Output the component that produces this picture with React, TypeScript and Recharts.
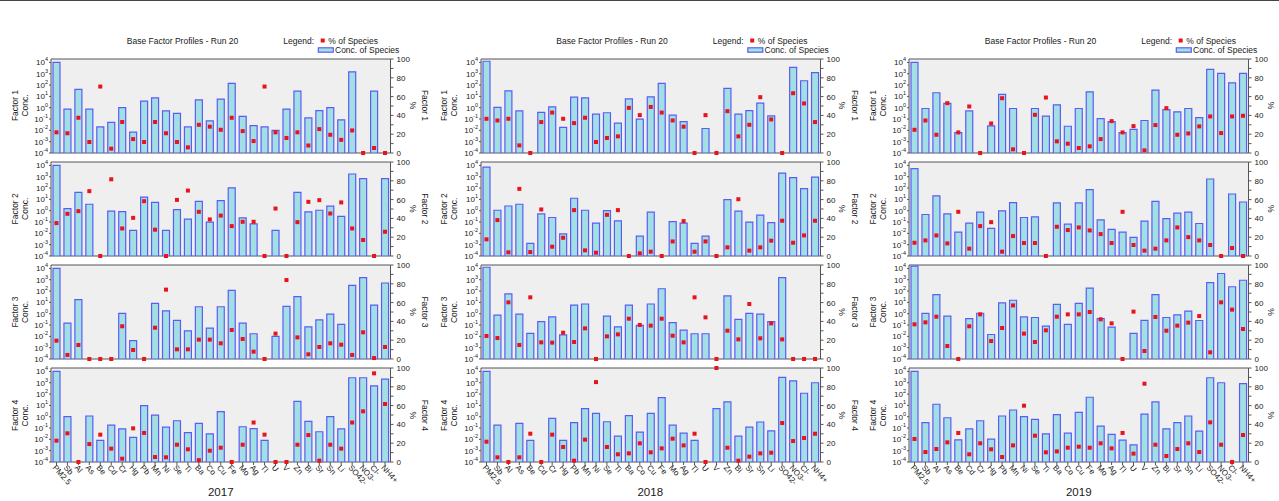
import React from "react";
import { ComposedChart, Bar, Line, XAxis, YAxis, ReferenceArea, CartesianGrid } from "recharts";

const species = ["PM2.5", "Sb", "Al", "As", "Be", "Cd", "Cr", "Hg", "Pb", "Mn", "Ni", "Se", "Ti", "Ba", "Co", "Cu", "Fe", "Mo", "Ag", "Tl", "U", "V", "Zn", "Bi", "Sr", "Sn", "Li", "SO42-", "NO3-", "Cl-", "NH4+"];
const years = ["2017", "2018", "2019"];
const logTicks = [1e-4, 1e-3, 1e-2, 1e-1, 1, 10, 100, 1000, 10000];
const pctTicks = [0, 10, 20, 30, 40, 50, 60, 70, 80, 90, 100];
const titleText = "Base Factor Profiles - Run 20";

// 2017
const c17f1 = [1e4, 0.75, 41, 0.75, 0.02, 0.05, 1.0, 0.007, 3.8, 7.4, 0.53, 0.31, 0.02, 5, 0.07, 5.8, 138, 0.17, 0.026, 0.02, 0.01, 0.75, 29, 0.125, 0.56, 1.0, 0.085, 1480, null, 29, null];
const p17f1 = [22, 21, 37.5, 11.7, 70.7, 4.6, 33, 14.8, 11.7, 33, 21, 11.7, 6, 30, 28, 24.7, 37.5, 23.3, 12.7, 70.7, 22, 16, 22, 8, 25.4, 19.4, 14, 24, 0, 5.3, 0];
const c17f2 = [1e4, 1.55, 42, 3.7, null, 0.9, 0.83, 0.018, 16, 5.5, 0.018, 1.26, 0.18, 6.8, 0.1, 7.8, 102, 0.23, 0.07, null, 0.018, null, 42, 0.79, 1.1, 2.5, 0.32, 1740, 670, null, 670];
const p17f2 = [35, 44.9, 47.7, 69, 0, 81.6, 29.3, 40.6, 58.3, 28, 0, 59.7, 69.6, 47, 38.9, 43, 31.8, 36.4, 36.4, 0, 50.5, 0, 36, 57.6, 59.4, 45.2, 57, 29.3, 17, 0, 25.8];
const c17f3 = [1e4, 0.15, 17.7, null, null, null, 1.05, 0.0042, null, 8.3, 1.8, 0.26, 0.031, 4.1, 0.054, 4.1, 113, 0.15, 0.017, null, 0.01, 4.5, 32, 0.07, 0.28, 0.9, 0.115, 320, 1550, 5.8, 515];
const p17f3 = [19.5, 4.3, 14.9, 0, 0, 0, 34.8, 9.6, 0, 33.3, 73.8, 10.3, 10.3, 20.6, 20.6, 16.7, 30.9, 21.3, 7.8, 0, 27, 84, 23, 5, 12.8, 16.7, 15.2, 4.3, 28.4, 1, 12.8];
const c17f4 = [1e4, 1.0, null, 1.15, 0.008, 0.18, 0.085, 0.015, 9.5, 1.4, 0.12, 0.44, 0.04, 0.26, 0.031, 2.8, null, 0.13, 0.09, 0.008, null, null, 23, 0.39, 0.047, 1.0, 0.085, 2750, 2750, 530, 2100];
const p17f4 = [22.7, 30.5, 0, 19.1, 29.1, 14.2, 3.5, 35.8, 30.9, 5.3, 5, 18.4, 13.5, 2, 12, 15.2, 0, 18.4, 42, 29.1, 0, 0, 18.4, 28.7, 1.4, 18.4, 14.2, 42, 53.9, 94.3, 61.7];

// 2018
const c18f1 = [12600, 1.05, 31, 0.52, null, 0.38, 1.2, 0.018, 8.5, 7.4, 0.27, 0.36, 0.043, 6, 0.1, 9.2, 138, 0.22, 0.06, null, 0.0145, null, 50, 0.27, 0.56, 2.5, 0.19, null, 3600, 240, 1230];
const p18f1 = [36.4, 34.6, 36.4, 8.1, 0, 32.9, 43, 36.4, 31.8, 37.5, 11.7, 16, 17.7, 48, 40.3, 49, 43, 34.6, 28, 0, 40.3, 0, 44.5, 17.7, 30, 59.4, 35.7, 0, 63.6, 52.7, 32.9];
const c18f2 = [7100, 1.1, 2.6, 3.7, 0.0013, 0.52, 0.25, 0.009, 12.6, 1.1, 0.08, 1.0, 0.126, null, 0.0056, 0.74, null, 0.11, 0.08, 0.0013, 0.0056, null, 9.5, 0.9, 0.1, 0.4, 0.09, 2100, 820, 89, 940];
const p18f2 = [17.7, 38.2, 3.9, 71.4, 4.2, 49.5, 9.9, 19.4, 48.8, 6, 3.5, 43.8, 48.8, 0, 2.8, 4.6, 0, 15.5, 37.1, 4.6, 15.5, 0, 9.2, 60.4, 5.7, 9.2, 16.3, 37.5, 14.1, 21.9, 37.5];
const c18f3 = [12600, 0.74, 56, 0.9, 0.018, 0.2, 0.52, 0.0135, 5.8, 7.2, null, 0.6, 0.07, 5.8, 0.093, 7.2, 160, 0.16, 0.035, 0.017, 0.017, null, 37, 0.32, 1.05, 0.9, 0.2, 1550, null, null, null];
const p18f3 = [24.5, 22.3, 60.3, 14.9, 65.6, 17.7, 17.4, 28, 18.1, 32.6, 0, 24.1, 26.2, 42.9, 36.2, 35.5, 42.9, 24.8, 17.7, 65.6, 44.3, 0, 30.1, 20.9, 58.5, 22, 37.9, 20.9, 0, 0, 0];
const c18f4 = [1e4, 0.18, null, 0.26, 0.008, null, 0.71, 0.008, 0.3, 5.1, 2.0, 0.36, 0.019, 1.23, 0.044, 2.0, 49, 0.18, 0.035, 0.008, null, 5.1, 20, 0.019, 0.12, 0.34, 0.057, 2950, 1480, 118, 1000];
const p18f4 = [21.6, 5, 0, 5, 30.1, 0, 29.1, 16, 1.4, 23.8, 85, 16, 8.2, 9.2, 19.9, 10.3, 14.5, 24.8, 17.7, 30.1, 0, 100, 15.2, 1.4, 5.7, 9.2, 9.9, 41.5, 22.3, 25.5, 30.1];

// 2019
const c19f1 = [1e4, 0.85, 21, 2.4, 0.0064, 0.52, null, 0.025, 15, 0.85, null, 0.85, 0.18, 1.8, 0.023, 0.85, 25, 0.11, 0.06, 0.0064, 0.012, 0.074, 36, 0.69, 0.43, 0.85, 0.135, 2400, 1070, 158, 1070];
const p19f1 = [24.7, 34.6, 19.4, 53, 21.9, 49.5, 0, 31.4, 58.3, 3.9, 0, 40.6, 59, 12.4, 9.9, 5.3, 7.1, 14.8, 33.9, 21.9, 28.6, 2.8, 29.7, 47.7, 19.4, 20.8, 28.3, 38.9, 21.2, 38.9, 39.6];
const c19f2 = [5100, 0.46, 20, 0.52, 0.013, 0.08, 0.74, 0.027, 0.96, 5.2, 0.25, 0.28, null, 4.9, 0.065, 4.9, 72, 0.155, 0.022, 0.013, 0.0044, 0.118, 6.8, 0.2, 0.6, 0.74, 0.074, 630, null, 30, 5.9];
const p19f2 = [14.1, 16.6, 21.9, 13.4, 47, 7.8, 31.8, 36, 4.6, 21.2, 13.8, 13.8, 0, 31.1, 27.6, 30.4, 27.2, 23.3, 13.8, 47, 11.7, 5.7, 7.8, 16.6, 30.4, 20.1, 16.6, 11.7, 0, 8.5, 0];
const c19f3 = [16000, 1.05, 49, 0.6, null, 0.37, 1.1, 0.0145, 8.9, 15.5, 0.52, 0.46, 0.08, 6.7, 0.115, 8.3, 183, 0.37, 0.066, null, 0.018, 0.26, 49, 0.46, 0.8, 1.7, 0.25, 550, 3550, 240, 900];
const p19f3 = [36.9, 39, 45, 13.8, 0, 34.8, 47.5, 19.1, 33, 57, 27, 18.1, 30.5, 45, 47.5, 47.5, 50, 42.2, 37.9, 0, 50.4, 8.5, 44.7, 30.1, 35.5, 38.7, 45.7, 7.1, 60.3, 52.5, 31.9];
const c19f4 = [1e4, 0.3, 12.6, 0.81, 0.009, 0.085, 0.44, 0.0103, 1.15, 3.9, 1.0, 0.58, 0.031, 1.5, 0.035, 2.4, 52, 0.15, 0.027, 0.0085, 0.0032, 1.7, 20, 0.085, 0.3, 1.15, 0.053, 2750, 1000, null, 850];
const p19f4 = [24.5, 10.6, 13.8, 20.9, 30.9, 8.2, 19.9, 13.5, 5.3, 17.7, 59.9, 28, 10.3, 11.3, 15.2, 16.3, 15.2, 19.9, 14.5, 30.9, 8.9, 83.3, 18.4, 6.4, 13.8, 19.9, 10.6, 42.2, 18.4, 0, 28.7];

const concByYear = [[c17f1, c17f2, c17f3, c17f4], [c18f1, c18f2, c18f3, c18f4], [c19f1, c19f2, c19f3, c19f4]];
const pctByYear = [[p17f1, p17f2, p17f3, p17f4], [p18f1, p18f2, p18f3, p18f4], [p19f1, p19f2, p19f3, p19f4]];

const FONT = '"Liberation Sans", Arial, Helvetica, sans-serif';
const TXT = "#1a1a1a";
const BAR_FILL = "#a2dfe4";
const BAR_STROKE = "#5b5cf6";
const DOT = "#e8141c";
const FRAME = "#555555";
const PLOT_BG = "#efefef";

const PANEL_L = [51, 480.5, 909];
const PW = 339.5;
const ROW_T = [58.5, 161.8, 265, 368.3];
const PH = 94;
const LW = 50;
const RW = 30;
const MT = 6;
const MB = 6;
const XH = 34;

function LogTick(props: any) {
  const { x, y, payload } = props;
  const e = Math.round(Math.log10(payload.value));
  return (
    <text x={x} y={y + 3} textAnchor="end" fontSize={8} fill={TXT}>
      <tspan>10</tspan>
      <tspan dy={-4} fontSize={5.5}>{e}</tspan>
    </text>
  );
}

function PctTick(props: any) {
  const { x, y, payload } = props;
  if (payload.value % 20 !== 0) return <g />;
  return (
    <text x={x} y={y + 3} textAnchor="start" fontSize={8} fill={TXT}>
      {payload.value}
    </text>
  );
}

function SpeciesTick(props: any) {
  const { x, y, payload } = props;
  return (
    <text transform={`translate(${x - 2},${y}) rotate(48)`} x={0} y={0} dy={3} textAnchor="start" fontSize={8} fill={TXT}>
      {payload.value}
    </text>
  );
}

function Square(props: any) {
  const { cx, cy, index } = props;
  if (cx == null || cy == null) return <g key={`s${index}`} />;
  return <rect key={`s${index}`} x={cx - 2} y={cy - 2} width={4} height={4} fill={DOT} />;
}

function Row({ p, f }: { p: number; f: number }) {
  const conc = concByYear[p][f];
  const pct = pctByYear[p][f];
  const data = species.map((name, i) => ({ name, c: conc[i], p: pct[i] }));
  const showX = f === 3;
  const height = MT + PH + (showX ? XH : MB);
  return (
    <div style={{ position: "absolute", left: PANEL_L[p] - LW, top: ROW_T[f] - MT }}>
      <ComposedChart width={LW + PW + RW} height={height} data={data} margin={{ top: MT, right: 0, left: 0, bottom: showX ? 0 : MB }}>
        <CartesianGrid fill={PLOT_BG} horizontal={false} vertical={false} stroke="none" />
        <XAxis
          dataKey="name"
          type="category"
          hide={!showX}
          interval={0}
          height={XH}
          axisLine={false}
          tickSize={3}
          tickMargin={1}
          tickLine={{ stroke: FRAME }}
          tick={<SpeciesTick />}
        />
        <YAxis
          yAxisId="left"
          orientation="left"
          type="number"
          scale="log"
          domain={[1e-4, 2e4]}
          allowDataOverflow
          ticks={logTicks}
          interval={0}
          width={LW}
          axisLine={false}
          tickSize={2}
          tickMargin={1}
          tickLine={{ stroke: FRAME }}
          tick={<LogTick />}
        />
        <YAxis
          yAxisId="right"
          orientation="right"
          type="number"
          domain={[0, 100]}
          ticks={pctTicks}
          interval={0}
          width={RW}
          axisLine={false}
          tickSize={3}
          tickMargin={3}
          tickLine={{ stroke: FRAME }}
          tick={<PctTick />}
        />
        <Bar yAxisId="left" dataKey="c" barSize={7} fill={BAR_FILL} stroke={BAR_STROKE} strokeWidth={1.2} isAnimationActive={false} />
        <Line yAxisId="right" dataKey="p" stroke="none" dot={(d: any) => <Square {...d} />} activeDot={false} isAnimationActive={false} />
        <ReferenceArea yAxisId="right" y1={0} y2={100} fill="none" stroke={FRAME} strokeWidth={1} ifOverflow="visible" />
      </ComposedChart>
    </div>
  );
}

function Overlay() {
  const items: any[] = [];
  PANEL_L.forEach((L, p) => {
    const R = L + PW;
    items.push(
      <text key={`t${p}`} x={L + 131.5} y={43.7} textAnchor="middle" fontSize={8.5} fill={TXT}>{titleText}</text>,
      <text key={`lg${p}`} x={L + 232.3} y={43.7} fontSize={8.5} fill={TXT}>Legend:</text>,
      <rect key={`lr${p}`} x={L + 269.7} y={38.5} width={4} height={4} fill={DOT} />,
      <text key={`lt1${p}`} x={L + 277.3} y={43.7} fontSize={8.5} fill={TXT}>% of Species</text>,
      <rect key={`lb${p}`} x={L + 267.3} y={47.8} width={15} height={4.4} fill={BAR_FILL} stroke={BAR_STROKE} strokeWidth={1.2} />,
      <text key={`lt2${p}`} x={L + 284} y={53} fontSize={8.5} fill={TXT}>Conc. of Species</text>,
      <text key={`y${p}`} x={L + PW / 2} y={496} textAnchor="middle" fontSize={11.5} fill={TXT}>{years[p]}</text>
    );
    ROW_T.forEach((T, f) => {
      const cy = T + PH / 2;
      items.push(
        <text key={`a${p}${f}`} transform={`translate(${L - 36},${cy}) rotate(-90)`} textAnchor="middle" dy="0.35em" fontSize={8.5} fill={TXT}>{`Factor ${f + 1}`}</text>,
        <text key={`b${p}${f}`} transform={`translate(${L - 26},${cy}) rotate(-90)`} textAnchor="middle" dy="0.35em" fontSize={8.5} fill={TXT}>Conc.</text>,
        <text key={`c${p}${f}`} transform={`translate(${R + 22},${cy}) rotate(90)`} textAnchor="middle" dy="0.35em" fontSize={8.5} fill={TXT}>%</text>
      );
      if (p < 2) {
        items.push(
          <text key={`d${p}${f}`} transform={`translate(${R + 34.5},${cy}) rotate(90)`} textAnchor="middle" dy="0.35em" fontSize={8.5} fill={TXT}>{`Factor ${f + 1}`}</text>
        );
      }
    });
  });
  return (
    <svg width={1279} height={501} style={{ position: "absolute", left: 0, top: 0, pointerEvents: "none" }}>
      <line x1={0} x2={1279} y1={0.5} y2={0.5} stroke="#444" strokeWidth={1} />
      {items}
    </svg>
  );
}

export default function App() {
  const rows: any[] = [];
  for (let p = 0; p < 3; p++) {
    for (let f = 0; f < 4; f++) {
      rows.push(<Row key={`r${p}${f}`} p={p} f={f} />);
    }
  }
  return (
    <div style={{ position: "absolute", left: 0, top: 0, width: 1279, height: 501, background: "#fff", fontFamily: FONT, overflow: "hidden" }}>
      {rows}
      <Overlay />
    </div>
  );
}
